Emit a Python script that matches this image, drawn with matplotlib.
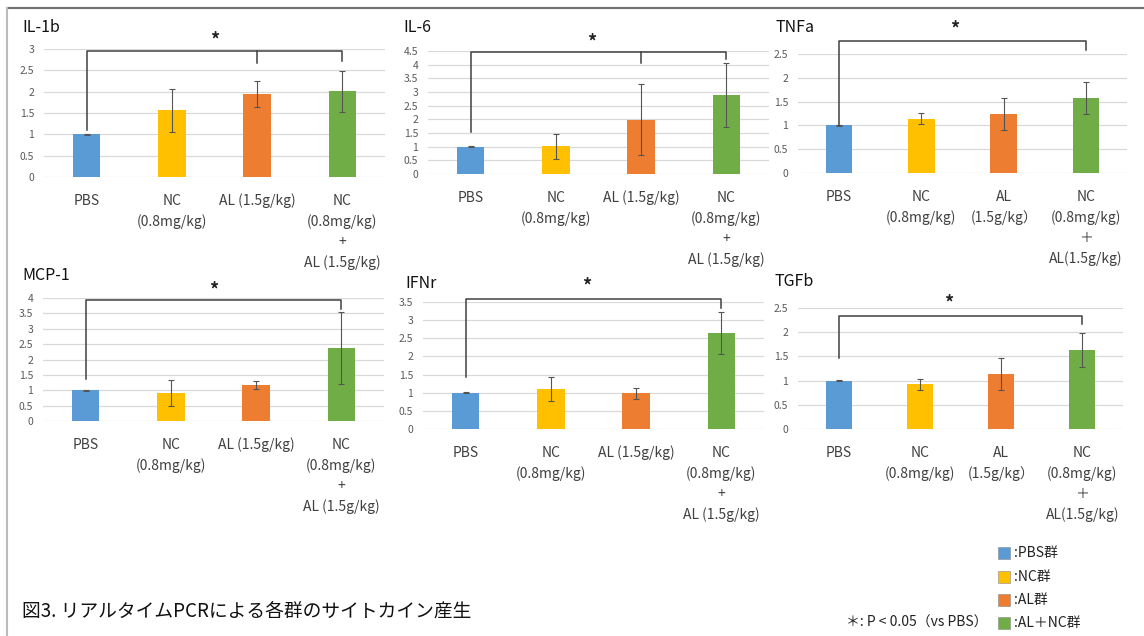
import matplotlib
matplotlib.use("Agg")
import matplotlib.pyplot as plt
from matplotlib.lines import Line2D
from matplotlib.patches import Rectangle
from matplotlib.ticker import FuncFormatter

plt.rcParams['font.family'] = ['Noto Sans CJK JP', 'DejaVu Sans']

W, H = 1144, 636

# ---------------- data ----------------
colors = ['#5B9BD5', '#FFC000', '#ED7D31', '#70AD47']
labels_a = ['PBS', 'NC\n(0.8mg/kg)', 'AL (1.5g/kg)', 'NC\n(0.8mg/kg)\n+\nAL (1.5g/kg)']
labels_b = ['PBS', 'NC\n(0.8mg/kg)', 'AL\n(1.5g/kg）', 'NC\n(0.8mg/kg)\n＋\nAL(1.5g/kg)']

titles = ['IL-1b', 'IL-6', 'TNFa', 'MCP-1', 'IFNr', 'TGFb']

il1b_mean = [1.0, 1.56, 1.94, 2.01]
il1b_err = [0.01, 0.51, 0.30, 0.48]
il6_mean = [1.0, 1.01, 1.99, 2.89]
il6_err = [0.01, 0.46, 1.29, 1.18]
tnfa_mean = [1.0, 1.14, 1.24, 1.57]
tnfa_err = [0.01, 0.12, 0.33, 0.34]
mcp1_mean = [1.0, 0.92, 1.16, 2.36]
mcp1_err = [0.01, 0.42, 0.13, 1.17]
ifnr_mean = [1.0, 1.10, 0.98, 2.64]
ifnr_err = [0.01, 0.32, 0.15, 0.58]
tgfb_mean = [1.0, 0.92, 1.13, 1.63]
tgfb_err = [0.01, 0.12, 0.33, 0.35]

means = [il1b_mean, il6_mean, tnfa_mean, mcp1_mean, ifnr_mean, tgfb_mean]
errs = [il1b_err, il6_err, tnfa_err, mcp1_err, ifnr_err, tgfb_err]
ymax = [3.0, 4.5, 2.5, 4.0, 3.5, 2.5]
ystep = [0.5, 0.5, 0.5, 0.5, 0.5, 0.5]
cat_labels = [labels_a, labels_a, labels_b, labels_a, labels_a, labels_b]

# significance brackets
br_top = [2.95, 4.47, 2.77, 3.95, 3.59, 2.33]
br_left = [1.09, 1.54, 1.01, 1.38, 1.42, 1.46]
br_right = [2.73, 4.19, 2.58, 3.65, 3.33, 2.16]
br_mid = [2.67, 4.05, None, None, None, None]
star_y = [3.2, 4.84, 3.03, 4.25, 3.93, 2.60]
star_x = [1.5, 1.42, 1.4, 1.5, 1.42, 1.35]

legend_labels = [':PBS群', ':NC群', ':AL群', ':AL＋NC群']
sig_note = '＊: P < 0.05（vs PBS）'
fig_title = '図3. リアルタイムPCRによる各群のサイトカイン産生'

# ---------------- layout (pixels) ----------------
boxes = [(44, 385, 177, 49), (428, 769, 174, 51), (798, 1127, 173, 54),
         (43, 384, 421, 298), (423, 764, 429, 302), (798, 1123, 429, 308)]
title_pos = [(22, 28), (403, 27), (776, 27), (22, 275), (405, 283), (775, 282)]

fig = plt.figure(figsize=(W / 100, H / 100), dpi=100)
fig.patch.set_facecolor('white')

fmt = FuncFormatter(lambda v, p: ('%g' % v))

for i in range(6):
    l, r, y0, yt = boxes[i]
    ax = fig.add_axes([l / W, 1 - y0 / H, (r - l) / W, (y0 - yt) / H])
    ax.set_xlim(-0.5, 3.5)
    ax.set_ylim(0, ymax[i])
    x = list(range(4))
    ax.bar(x, means[i], width=0.32, color=colors, zorder=3)
    ax.errorbar(x, means[i], yerr=errs[i], fmt='none', ecolor='#555555',
                elinewidth=0.8, capsize=2, capthick=0.8, zorder=4)
    ticks = [k * ystep[i] for k in range(int(round(ymax[i] / ystep[i])) + 1)]
    ax.set_yticks(ticks)
    ax.yaxis.set_major_formatter(fmt)
    ax.grid(axis='y', color='#D9D9D9', lw=0.9, zorder=0)
    ax.set_axisbelow(True)
    for s in ax.spines.values():
        s.set_visible(False)
    ax.tick_params(axis='y', length=0, pad=7, labelsize=7.5, labelcolor='#595959')
    ax.set_xticks(x)
    ax.set_xticklabels(cat_labels[i], fontsize=10, color='#404040', linespacing=1.55)
    ax.tick_params(axis='x', length=0, pad=12)
    ax.set_facecolor('none')

    kw = dict(color='#404040', lw=1.1, clip_on=False, zorder=5)
    ax.plot([0, 0, 3, 3], [br_left[i], br_top[i], br_top[i], br_right[i]], **kw)
    if br_mid[i] is not None:
        ax.plot([2, 2], [br_top[i], br_mid[i]], **kw)
    ax.text(star_x[i], star_y[i], '*', ha='center', va='center', fontsize=13,
            fontweight='bold', color='#222222', clip_on=False)

    tx, ty = title_pos[i]
    fig.text(tx / W, 1 - ty / H, titles[i], ha='left', va='center', fontsize=11.5, color='#111111')

# frame lines
fig.add_artist(Line2D([7 / W, 1], [1 - 8 / H, 1 - 8 / H], transform=fig.transFigure,
                      color='#707070', lw=1.5))
fig.add_artist(Line2D([7 / W, 7 / W], [0, 1 - 8 / H], transform=fig.transFigure,
                      color='#BBBBBB', lw=1.5))

# legend
leg_y = [553, 577, 600, 623]
for c, lab, yy in zip(colors, legend_labels, leg_y):
    fig.add_artist(Rectangle((998 / W, 1 - (yy + 6) / H), 12 / W, 12 / H,
                             transform=fig.transFigure, facecolor=c, edgecolor='#888888', lw=0.4))
    fig.text(1014 / W, 1 - yy / H, lab, ha='left', va='center', fontsize=10, color='#222222')
fig.text(987 / W, 1 - 623 / H, sig_note, ha='right', va='center', fontsize=10, color='#222222')

fig.text(22 / W, 1 - 611 / H, fig_title, ha='left', va='center', fontsize=13.5, color='#111111')

fig.savefig('out.png', dpi=100, facecolor='white')
